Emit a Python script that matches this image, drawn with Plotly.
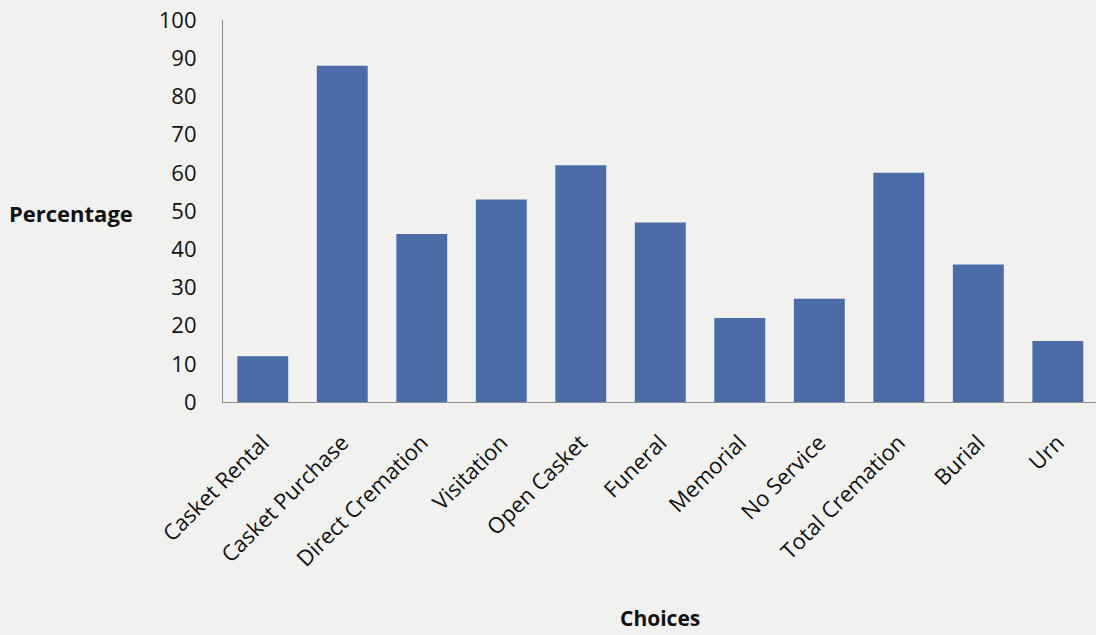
import plotly.graph_objects as go

# Survey: share of respondents selecting each funeral option
choices = ["Casket Rental", "Casket Purchase", "Direct Cremation", "Visitation",
           "Open Casket", "Funeral", "Memorial", "No Service",
           "Total Cremation", "Burial", "Urn"]
percentages = [12, 88, 44, 53, 62, 47, 22, 27, 60, 36, 16]
y_ticks = list(range(0, 101, 10))

W, H = 1096, 635
L, R, T, B = 223, 0, 20, 233
plot_w = W - L - R
plot_h = H - T - B

BAR = "#4a6daa"
BG = "#f1f1ef"
AXIS = "#8c8c8c"
FONT = "Open Sans, Lato, DejaVu Sans, sans-serif"
INK = "#111111"

fig = go.Figure(
    go.Bar(
        x=choices,
        y=percentages,
        marker=dict(color=BAR, line=dict(width=0)),
        hovertemplate="%{x}: %{y}%<extra></extra>",
    )
)

fig.update_layout(
    width=W,
    height=H,
    margin=dict(l=L, r=R, t=T, b=B, pad=0),
    paper_bgcolor=BG,
    plot_bgcolor=BG,
    bargap=0.36,
    showlegend=False,
    font=dict(family=FONT, color=INK, size=22),
    xaxis=dict(
        type="category",
        range=[-0.5, 10.48],
        showgrid=False,
        showline=True,
        linecolor=AXIS,
        linewidth=1.2,
        ticks="",
        tickangle=-45,
        ticklabelstandoff=18,
        tickfont=dict(size=22, family=FONT, color=INK),
        zeroline=False,
    ),
    yaxis=dict(
        range=[0, 100],
        tickvals=y_ticks,
        showgrid=False,
        showline=True,
        linecolor=AXIS,
        linewidth=1.2,
        ticks="",
        ticklabelstandoff=21,
        tickfont=dict(size=22, family=FONT, color=INK),
        zeroline=False,
    ),
    annotations=[
        dict(
            text="<b>Percentage</b>",
            xref="paper", yref="paper",
            x=(71 - L) / plot_w, y=(H - B - 213) / plot_h,
            xanchor="center", yanchor="middle",
            showarrow=False,
            font=dict(size=22, family=FONT, color=INK),
        ),
        dict(
            text="<b>Choices</b>",
            xref="paper", yref="paper",
            x=0.5, y=(H - B - 618) / plot_h,
            xanchor="center", yanchor="middle",
            showarrow=False,
            font=dict(size=21, family=FONT, color=INK),
        ),
    ],
)

fig.write_html("out.html")
